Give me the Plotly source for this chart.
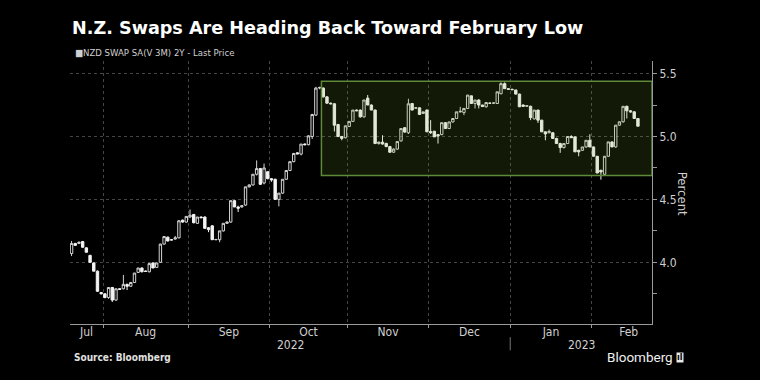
import numpy as np
import pandas as pd
import plotly.graph_objects as go

# ---------------- data ----------------
dates = pd.bdate_range("2022-07-19", "2023-02-17")

open_ = [4.07, 4.15, 4.15, 4.165, 4.115, 4.055, 3.995, 3.93, 3.76, 3.75,
         3.72, 3.80, 3.70, 3.79, 3.79, 3.825, 3.81, 3.84, 3.92, 3.955,
         3.93, 3.925, 3.995, 3.96, 4.0, 4.145, 4.20, 4.18, 4.185, 4.195,
         4.335, 4.32, 4.36, 4.38, 4.31, 4.36, 4.36, 4.275, 4.29, 4.18,
         4.18, 4.25, 4.31, 4.32, 4.49, 4.44, 4.44, 4.455, 4.60, 4.615,
         4.70, 4.745, 4.63, 4.72, 4.665, 4.66, 4.50, 4.55, 4.66, 4.73,
         4.80, 4.87, 4.86, 4.94, 4.935, 5.0, 5.17, 5.385, 5.385, 5.315,
         5.265, 5.26, 5.095, 5.0, 4.99, 5.08, 5.12, 5.21, 5.21, 5.156,
         5.305, 5.25, 5.21, 4.944, 4.955, 4.945, 4.92, 4.875, 4.90, 4.965,
         5.07, 5.03, 5.262, 5.225, 5.228, 5.183, 5.21, 5.04, 5.042, 5.015,
         5.015, 5.11, 5.063, 5.116, 5.143, 5.196, 5.19, 5.223, 5.323, 5.262,
         5.29, 5.25, 5.236, 5.265, 5.265, 5.262, 5.34, 5.42, 5.38, 5.375,
         5.37, 5.337, 5.25, 5.24, 5.24, 5.14, 5.21, 5.13, 5.037, 5.03,
         5.03, 4.984, 4.944, 4.912, 4.944, 5.0, 4.997, 4.89, 4.89, 4.917,
         4.97, 4.917, 4.843, 4.732, 4.70, 4.843, 4.957, 4.917, 5.09, 5.117,
         5.24, 5.204, 5.196, 5.143]
high = [4.17, 4.155, 4.165, 4.17, 4.12, 4.06, 4.0, 3.935, 3.765, 3.755,
        3.80, 3.805, 3.79, 3.795, 3.90, 3.83, 3.84, 3.915, 3.955, 3.96,
        3.935, 3.995, 4.0, 3.995, 4.148, 4.206, 4.205, 4.185, 4.21, 4.335,
        4.34, 4.365, 4.42, 4.385, 4.36, 4.365, 4.365, 4.28, 4.295, 4.185,
        4.25, 4.31, 4.325, 4.49, 4.495, 4.45, 4.455, 4.60, 4.62, 4.70,
        4.81, 4.75, 4.785, 4.725, 4.67, 4.665, 4.55, 4.66, 4.73, 4.80,
        4.87, 4.875, 4.94, 4.945, 5.01, 5.18, 5.395, 5.395, 5.39, 5.32,
        5.27, 5.265, 5.10, 5.005, 5.085, 5.12, 5.21, 5.215, 5.215, 5.29,
        5.33, 5.255, 5.215, 4.96, 5.01, 4.95, 4.925, 4.905, 4.96, 5.065,
        5.075, 5.30, 5.265, 5.23, 5.23, 5.196, 5.215, 5.13, 5.045, 5.02,
        5.11, 5.115, 5.116, 5.143, 5.196, 5.236, 5.225, 5.33, 5.325, 5.29,
        5.295, 5.252, 5.27, 5.27, 5.27, 5.355, 5.43, 5.43, 5.385, 5.38,
        5.37, 5.34, 5.255, 5.25, 5.245, 5.21, 5.212, 5.132, 5.04, 5.055,
        5.035, 4.99, 4.95, 4.944, 5.0, 5.01, 5.0, 4.895, 4.917, 4.97,
        5.018, 4.92, 4.845, 4.735, 4.843, 4.957, 4.96, 5.09, 5.117, 5.24,
        5.245, 5.21, 5.2, 5.145]
low = [4.05, 4.13, 4.145, 4.115, 4.08, 3.995, 3.93, 3.765, 3.745, 3.715,
       3.71, 3.685, 3.695, 3.78, 3.785, 3.78, 3.805, 3.835, 3.915, 3.92,
       3.925, 3.92, 3.955, 3.955, 3.995, 4.14, 4.165, 4.175, 4.18, 4.19,
       4.315, 4.315, 4.355, 4.31, 4.305, 4.35, 4.27, 4.24, 4.18, 4.175,
       4.16, 4.245, 4.305, 4.315, 4.44, 4.40, 4.435, 4.45, 4.595, 4.61,
       4.69, 4.615, 4.62, 4.66, 4.64, 4.50, 4.445, 4.545, 4.655, 4.725,
       4.795, 4.86, 4.85, 4.93, 4.93, 4.98, 5.165, 5.375, 5.31, 5.26,
       5.255, 5.04, 4.995, 4.97, 4.985, 5.075, 5.115, 5.20, 5.15, 5.15,
       5.25, 5.21, 4.94, 4.935, 4.935, 4.915, 4.87, 4.87, 4.895, 4.96,
       5.03, 5.02, 5.21, 5.22, 5.175, 5.18, 5.037, 5.02, 4.997, 4.944,
       5.01, 5.063, 5.06, 5.11, 5.14, 5.19, 5.17, 5.22, 5.262, 5.223,
       5.223, 5.236, 5.23, 5.26, 5.26, 5.26, 5.335, 5.38, 5.37, 5.37,
       5.335, 5.236, 5.236, 5.235, 5.13, 5.135, 5.108, 5.037, 4.97, 5.025,
       4.984, 4.944, 4.87, 4.905, 4.94, 4.99, 4.878, 4.843, 4.885, 4.91,
       4.917, 4.843, 4.71, 4.657, 4.695, 4.84, 4.917, 4.91, 5.085, 5.11,
       5.143, 5.19, 5.143, 5.082]
close = [4.15, 4.135, 4.16, 4.12, 4.08, 4.0, 3.93, 3.77, 3.75, 3.72,
         3.80, 3.70, 3.79, 3.785, 3.825, 3.81, 3.84, 3.915, 3.955, 3.925,
         3.928, 3.99, 3.955, 3.995, 4.145, 4.205, 4.17, 4.178, 4.195, 4.33,
         4.32, 4.365, 4.375, 4.315, 4.36, 4.355, 4.27, 4.26, 4.18, 4.182,
         4.25, 4.31, 4.32, 4.49, 4.44, 4.43, 4.45, 4.60, 4.615, 4.70,
         4.745, 4.62, 4.75, 4.665, 4.655, 4.50, 4.55, 4.66, 4.73, 4.80,
         4.865, 4.862, 4.94, 4.935, 5.005, 5.175, 5.385, 5.39, 5.315, 5.265,
         5.26, 5.09, 5.0, 4.985, 5.085, 5.12, 5.21, 5.205, 5.156, 5.29,
         5.25, 5.21, 4.944, 4.955, 4.94, 4.92, 4.875, 4.90, 4.96, 5.063,
         5.035, 5.26, 5.21, 5.228, 5.175, 5.196, 5.037, 5.03, 4.997, 5.005,
         5.11, 5.063, 5.116, 5.143, 5.196, 5.20, 5.223, 5.329, 5.262, 5.29,
         5.25, 5.238, 5.27, 5.264, 5.266, 5.355, 5.42, 5.38, 5.375, 5.372,
         5.337, 5.236, 5.24, 5.245, 5.15, 5.21, 5.13, 5.037, 5.02, 5.04,
         4.984, 4.944, 4.912, 4.944, 5.0, 4.99, 4.878, 4.878, 4.917, 4.97,
         4.917, 4.843, 4.71, 4.718, 4.843, 4.957, 4.917, 5.09, 5.117, 5.24,
         5.204, 5.196, 5.143, 5.082]

month_labels = ["Jul", "Aug", "Sep", "Oct", "Nov", "Dec", "Jan", "Feb"]
year_labels = ["2022", "2023"]
y_ticks = [4.0, 4.5, 5.0, 5.5]
y_range = [3.51, 5.6]

band_low = 4.69
band_high = 5.44
band_start = "2022-10-20"

title_text = "N.Z. Swaps Are Heading Back Toward February Low"
legend_text = "NZD SWAP SA(V 3M) 2Y - Last Price"

# ---------------- positions derived from dates ----------------
n = len(dates)
x = np.arange(n)
x_lo, x_hi = -0.42, n + 2.8

periods = dates.to_period("M")
boundaries, label_pos = [], []
for m in periods.unique():
    idx = np.where(periods == m)[0]
    first = idx[0]
    before = len(pd.bdate_range(m.start_time, dates[first])) - 1
    nfull = len(pd.bdate_range(m.start_time, m.end_time))
    start = first - before - 0.5
    end = start + nfull
    if first > 0:
        boundaries.append(first - 0.5)
    if start < x_lo:
        label_pos.append((x_lo + end) / 2)
    else:
        label_pos.append((start + end) / 2)

year_div = [b for b, m in zip(boundaries, periods.unique()[1:]) if m.month == 1][0]
year_pos = [(x_lo + year_div) / 2, (year_div + x_hi) / 2]
band_x0 = int(np.where(dates == pd.Timestamp(band_start))[0][0]) + 0.5

FONT = "DejaVu Sans Condensed, DejaVu Sans, sans-serif"
GRID = "#454545"
AXIS = "#9a9a9a"
TXT = "#d0d0d0"

fig = go.Figure()
fig.add_trace(go.Candlestick(
    x=x, open=open_, high=high, low=low, close=close,
    increasing=dict(line=dict(color="#d4d4d4", width=1), fillcolor="rgba(0,0,0,0)"),
    decreasing=dict(line=dict(color="#f4f4f4", width=1), fillcolor="#f4f4f4"),
    whiskerwidth=0, showlegend=False, hoverinfo="skip",
))

fig.add_shape(type="rect", xref="x", yref="y", x0=band_x0, x1=x_hi,
              y0=band_low, y1=band_high, layer="above",
              fillcolor="rgba(120,170,40,0.15)",
              line=dict(color="#5e8a3a", width=1.5))

fig.add_shape(type="line", xref="x", yref="paper", x0=year_div, x1=year_div,
              y0=-0.05, y1=-0.1, line=dict(color="#777777", width=1))

annotations = [
    dict(text="<b>" + title_text + "</b>", xref="paper", yref="paper", x=0, y=1.126,
         xanchor="left", yanchor="middle", showarrow=False,
         font=dict(family="DejaVu Sans, sans-serif", size=17.6, color="#ffffff")),
    dict(text="\u25A0" + legend_text, xref="paper", yref="paper", x=0.006, y=1.034,
         xanchor="left", yanchor="middle", showarrow=False,
         font=dict(family=FONT, size=9.5, color=TXT)),
    dict(text="Percent", xref="paper", yref="paper", x=1.053, y=0.496,
         xanchor="center", yanchor="middle", textangle=90, showarrow=False,
         font=dict(family=FONT, size=13, color=TXT)),
    dict(text="<b>Source: Bloomberg</b>", xref="paper", yref="paper", x=0.004, y=-0.126,
         xanchor="left", yanchor="middle", showarrow=False,
         font=dict(family=FONT, size=10, color="#e0e0e0")),
    dict(text="Bloomberg", xref="paper", yref="paper", x=1.04, y=-0.126,
         xanchor="right", yanchor="middle", showarrow=False,
         font=dict(family="Roboto, sans-serif", size=13.5, color="#f0f0f0")),
    dict(text="<b>ıl</b>", xref="paper", yref="paper", x=1.042, y=-0.126,
         xanchor="left", yanchor="middle", showarrow=False, bgcolor="#e8e8e8",
         borderpad=0, font=dict(family="DejaVu Sans", size=8, color="#000000")),
]
for yr, xp in zip(year_labels, year_pos):
    annotations.append(dict(text=yr, xref="x", yref="paper", x=xp, y=-0.078,
                            xanchor="center", yanchor="middle", showarrow=False,
                            font=dict(family=FONT, size=12, color=TXT)))

fig.update_layout(
    width=760, height=380,
    margin=dict(l=70, r=108, t=61, b=56),
    paper_bgcolor="#000000", plot_bgcolor="#000000",
    showlegend=False, boxgap=0.08,
    annotations=annotations,
    xaxis=dict(range=[x_lo, x_hi], rangeslider=dict(visible=False),
               tickmode="array", tickvals=label_pos, ticktext=month_labels,
               ticks="", showgrid=False, zeroline=False, ticklabelstandoff=-3,
               showline=True, linecolor=AXIS, linewidth=1,
               tickfont=dict(family=FONT, size=12, color=TXT),
               minor=dict(tickmode="array", tickvals=boundaries, ticks="outside",
                          ticklen=3, tickcolor=AXIS, showgrid=True,
                          gridcolor=GRID, griddash="dot", gridwidth=1)),
    yaxis=dict(side="right", range=y_range, tickmode="array",
               tickvals=y_ticks, ticktext=[f"{v:.1f}" for v in y_ticks],
               ticks="outside", ticklen=4, tickcolor=AXIS,
               showline=True, linecolor=AXIS, linewidth=1, zeroline=False,
               showgrid=True, gridcolor=GRID, griddash="dot", gridwidth=1,
               tickfont=dict(family=FONT, size=12, color=TXT),
               minor=dict(tickmode="array", tickvals=[v - 0.25 for v in y_ticks],
                          ticks="outside", ticklen=4, tickcolor=AXIS, showgrid=False)),
)

fig.write_html("out.html", config={"displayModeBar": False},
               post_script="document.body.style.margin='0';document.body.style.background='#000';")
